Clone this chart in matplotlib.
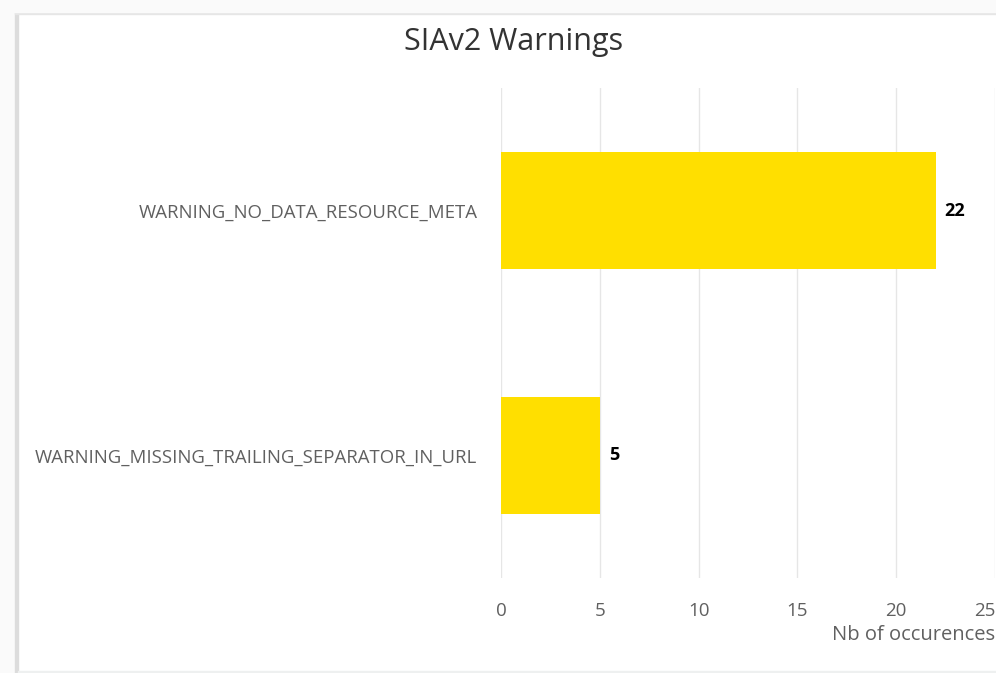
import matplotlib.pyplot as plt
from matplotlib.patches import Rectangle

categories = ['WARNING_NO_DATA_RESOURCE_META', 'WARNING_MISSING_TRAILING_SEPARATOR_IN_URL']
counts = [22, 5]
x_ticks = [0, 5, 10, 15, 20, 25]

plt.rcParams['font.family'] = ['Open Sans', 'DejaVu Sans']

fig = plt.figure(figsize=(9.96, 6.73), dpi=100)
fig.patch.set_facecolor('white')

# card frame / shadow like the screenshot
fig.add_artist(Rectangle((0.0, 0.0), 15/996, 1, transform=fig.transFigure, color='#fafafa', zorder=0))
fig.add_artist(Rectangle((15/996, 0.0), 3/996, 1 - 12/673, transform=fig.transFigure, color='#dcdcdc', zorder=0))
fig.add_artist(Rectangle((15/996, 1 - 14/673), 1, 3/673, transform=fig.transFigure, color='#e6e6e6', zorder=0))
fig.add_artist(Rectangle((0, 1 - 12/673), 1, 12/673, transform=fig.transFigure, color='#fafafa', zorder=0))
fig.add_artist(Rectangle((18/996, 0), 1, 2/673, transform=fig.transFigure, color='#eef0f0', zorder=0))

ax = fig.add_axes([501/996, 1 - 578/673, 494/996, 490/673])
ax.set_facecolor('none')

y = list(range(len(categories)))
ax.barh(y, counts, height=0.48, color='#FFDF00', zorder=2)
for yi, c in zip(y, counts):
    ax.text(c + 0.45, yi, str(c), va='center', ha='left', fontsize=13,
            fontweight='bold', color='black')

ax.set_ylim(1.5, -0.5)
ax.set_xlim(0, 25)
ax.set_yticks(y)
ax.set_yticklabels(categories, fontsize=13.4, color='#606060')
ax.set_xticks(x_ticks)
ax.set_xticklabels([str(t) for t in x_ticks], fontsize=13.5, color='#606060')
ax.get_xticklabels()[-1].set_horizontalalignment('right')
ax.tick_params(length=0)
ax.tick_params(axis='y', pad=17)
ax.tick_params(axis='x', pad=17)

ax.grid(axis='x', color='#e6e6e6', linewidth=1, zorder=0)
for s in ax.spines.values():
    s.set_visible(False)
ax.axvline(0, color='#ccd6eb', linewidth=1.2, zorder=1)

ax.set_xlabel('Nb of occurences', fontsize=14.5, color='#606060', loc='right', labelpad=4)

fig.text(514/996, 1 - 42/673, 'SIAv2 Warnings', ha='center', va='center', fontsize=22, color='#333333')

fig.savefig('out.png', dpi=100)
